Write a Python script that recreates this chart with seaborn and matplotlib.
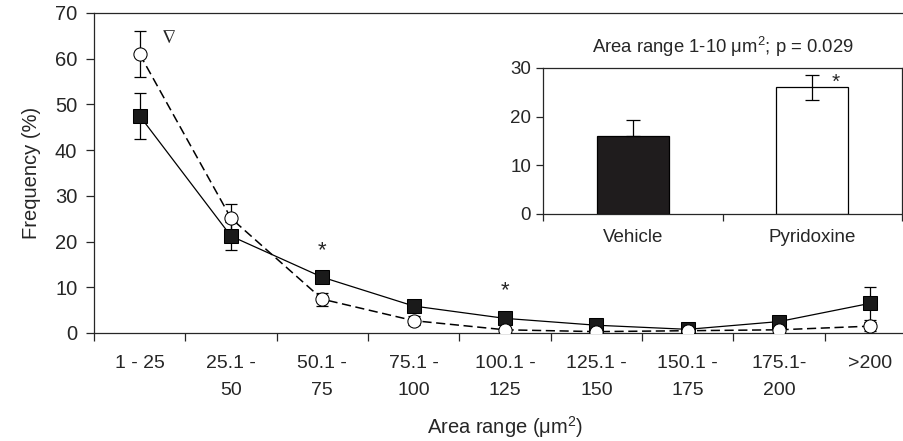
import numpy as np
import pandas as pd
import matplotlib
matplotlib.use("Agg")
import matplotlib.pyplot as plt
import seaborn as sns

# data
area_labels = ["1 - 25", "25.1 -\n50", "50.1 -\n75", "75.1 -\n100", "100.1 -\n125",
               "125.1 -\n150", "150.1 -\n175", "175.1-\n200", ">200"]
vehicle = [47.5, 21.2, 12.2, 5.9, 3.2, 1.7, 0.8, 2.5, 6.5]
vehicle_err = [5.1, 3.0, 0.6, 0.6, 0.5, 0.4, 0.3, 0.5, 3.6]
pyridoxine = [61.0, 25.1, 7.4, 2.7, 0.7, 0.3, 0.5, 0.7, 1.5]
pyridoxine_err = [5.0, 3.1, 1.4, 1.0, 0.3, 0.2, 0.2, 0.3, 1.0]

inset_groups = ["Vehicle", "Pyridoxine"]
inset_values = [16.0, 26.0]
inset_err = [3.4, 2.5]

sns.set_style("ticks")
plt.rcParams["font.family"] = ["Liberation Sans", "DejaVu Sans"]
plt.rcParams["mathtext.default"] = "regular"

df = pd.DataFrame({"pos": np.arange(len(area_labels)),
                   "Vehicle": vehicle, "Pyridoxine": pyridoxine})

fig = plt.figure(figsize=(9.04, 4.41), dpi=100)
ax = fig.add_axes([94 / 904, 108 / 441, 822 / 904, 320 / 441])

# vehicle: filled squares, solid line
sns.lineplot(data=df, x="pos", y="Vehicle", ax=ax, color="black", lw=0.9,
             marker="s", markersize=9.5, markerfacecolor="#1a1a1a",
             markeredgecolor="black", zorder=3)
ax.errorbar(df["pos"], df["Vehicle"], yerr=vehicle_err, fmt="none",
            ecolor="black", elinewidth=0.9, capsize=4, capthick=0.9, zorder=2)

# pyridoxine: open circles, dashed line
sns.lineplot(data=df, x="pos", y="Pyridoxine", ax=ax, color="black", lw=1.1,
             linestyle=(0, (6, 3)), marker="o", markersize=9.5,
             markerfacecolor="white", markeredgecolor="black", zorder=4)
ax.errorbar(df["pos"], df["Pyridoxine"], yerr=pyridoxine_err, fmt="none",
            ecolor="black", elinewidth=0.9, capsize=4, capthick=0.9, zorder=2)

ax.set_xlim(-0.5, len(area_labels) - 0.5)
ax.set_ylim(0, 70)
ax.set_yticks(range(0, 71, 10))
ax.set_xticks(np.arange(-0.5, len(area_labels), 1.0))
ax.set_xticklabels([])
ax.set_xticks(np.arange(len(area_labels)), minor=True)
ax.set_xticklabels(area_labels, minor=True, linespacing=1.75, va="top")
ax.tick_params(axis="x", which="minor", length=0, pad=16, labelsize=14)
ax.tick_params(axis="x", which="major", length=6, width=0.9, direction="out")
ax.tick_params(axis="y", length=6, width=0.9, labelsize=14.5, pad=6)
ax.set_xlabel("Area range (\u03bcm$^2$)", fontsize=14.5, labelpad=11)
ax.set_ylabel("Frequency (%)", fontsize=14.5, labelpad=10)
for side in ["left", "top", "bottom"]:
    ax.spines[side].set_linewidth(0.9)
ax.spines["right"].set_visible(False)

ax.text(0.32, 64.5, "$\\nabla$", fontsize=14, ha="center", va="center")
ax.text(2, 18.0, "*", fontsize=16, ha="center", va="center")
ax.text(4, 9.2, "*", fontsize=16, ha="center", va="center")

# inset bar chart
ins = fig.add_axes([543 / 904, 227 / 441, 359 / 904, 146 / 441])
inset_df = pd.DataFrame({"group": inset_groups, "value": inset_values})
sns.barplot(data=inset_df, x="group", y="value", hue="group", ax=ins,
            palette=["#1f1c1d", "white"], edgecolor="black", linewidth=0.9,
            width=0.4, legend=False)
ins.errorbar([0], [inset_values[0]], yerr=[[0], [inset_err[0]]], fmt="none",
             ecolor="black", elinewidth=0.9, capsize=5, capthick=0.9)
ins.errorbar([1], [inset_values[1]], yerr=[inset_err[1]], fmt="none",
             ecolor="black", elinewidth=0.9, capsize=5, capthick=0.9)
ins.text(1.13, 27.0, "*", fontsize=15, ha="center", va="center")
ins.set_xlim(-0.5, 1.5)
ins.set_ylim(0, 30)
ins.set_yticks([0, 10, 20, 30])
ins.set_xticks([-0.5, 0.5, 1.5])
ins.set_xticklabels([])
ins.set_xticks([0, 1], minor=True)
ins.set_xticklabels(inset_groups, minor=True)
ins.tick_params(axis="x", which="minor", length=0, pad=11, labelsize=13.5)
ins.tick_params(axis="x", which="major", length=5, width=0.9, direction="out")
ins.tick_params(axis="y", length=5, width=0.9, labelsize=13.5, direction="out")
ins.set_xlabel("")
ins.set_ylabel("")
for side in ins.spines.values():
    side.set_visible(True)
    side.set_linewidth(0.9)
ins.set_title("Area range 1-10 \u03bcm$^2$; p = 0.029", fontsize=13.3, pad=11)

fig.savefig("out.png", dpi=100)
